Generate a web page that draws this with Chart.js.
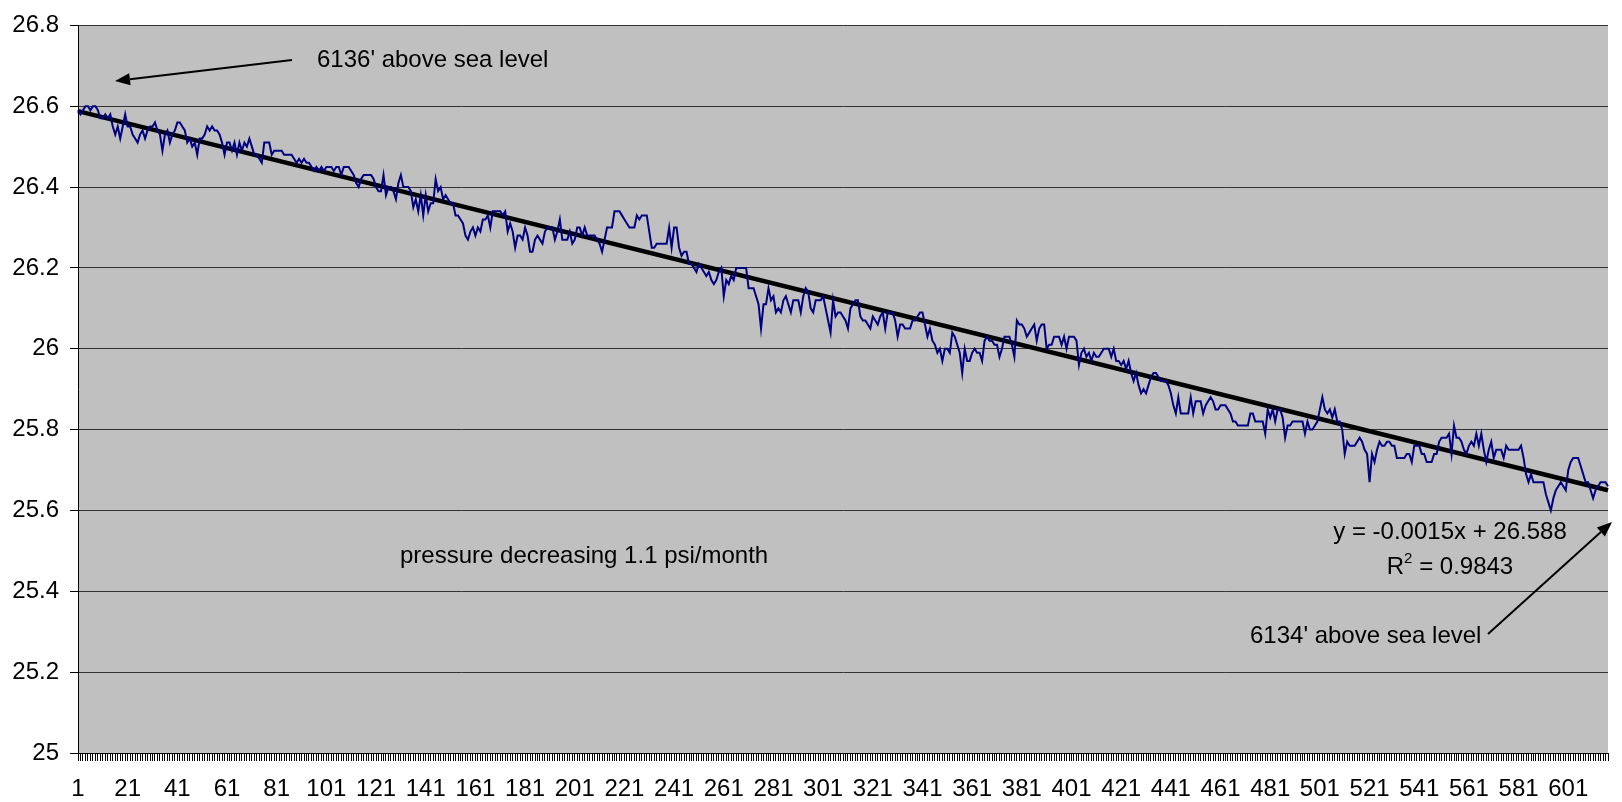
<!DOCTYPE html>
<html><head><meta charset="utf-8">
<script src="https://cdn.jsdelivr.net/npm/chart.js@4.4.0/dist/chart.umd.min.js"></script>
<style>html,body{margin:0;padding:0;background:#fff;overflow:hidden}</style>
</head><body>
<canvas id="c" width="1622" height="802" style="display:block;width:1622px;height:802px"></canvas>
<script>
// Barometric pressure readings (one per reading index)
const pressure = [
26.59,26.58,26.59,26.60,26.60,26.59,26.60,26.60,26.59,26.57,
26.57,26.58,26.57,26.58,26.55,26.53,26.55,26.52,26.55,26.58,
26.55,26.55,26.53,26.52,26.51,26.53,26.54,26.52,26.54,26.55,
26.55,26.56,26.54,26.53,26.49,26.53,26.54,26.51,26.53,26.54,
26.56,26.56,26.55,26.54,26.51,26.52,26.50,26.51,26.48,26.52,
26.52,26.53,26.55,26.54,26.55,26.54,26.54,26.53,26.51,26.48,
26.51,26.51,26.49,26.51,26.48,26.51,26.49,26.51,26.50,26.52,
26.50,26.48,26.48,26.47,26.46,26.51,26.51,26.51,26.48,26.49,
26.49,26.49,26.49,26.48,26.48,26.48,26.48,26.47,26.46,26.47,
26.46,26.47,26.46,26.46,26.45,26.44,26.45,26.44,26.45,26.44,
26.45,26.45,26.45,26.44,26.45,26.45,26.43,26.45,26.45,26.45,
26.44,26.43,26.41,26.40,26.42,26.43,26.43,26.43,26.43,26.42,
26.40,26.39,26.39,26.43,26.38,26.40,26.40,26.39,26.37,26.41,
26.43,26.40,26.40,26.40,26.39,26.35,26.37,26.34,26.38,26.33,
26.38,26.34,26.36,26.36,26.42,26.39,26.40,26.37,26.38,26.37,
26.36,26.36,26.33,26.33,26.32,26.31,26.28,26.27,26.29,26.30,
26.28,26.30,26.29,26.32,26.32,26.33,26.30,26.34,26.34,26.34,
26.34,26.33,26.34,26.29,26.31,26.29,26.25,26.28,26.28,26.27,
26.30,26.28,26.24,26.24,26.27,26.28,26.27,26.26,26.29,26.30,
26.30,26.30,26.27,26.29,26.32,26.27,26.27,26.27,26.29,26.26,
26.27,26.30,26.30,26.28,26.30,26.28,26.28,26.28,26.28,26.27,
26.26,26.24,26.27,26.30,26.30,26.30,26.34,26.34,26.34,26.33,
26.32,26.31,26.30,26.30,26.30,26.33,26.32,26.33,26.33,26.33,
26.29,26.25,26.25,26.26,26.26,26.26,26.26,26.26,26.30,26.25,
26.30,26.30,26.25,26.23,26.24,26.24,26.21,26.21,26.20,26.19,
26.21,26.20,26.19,26.18,26.19,26.17,26.16,26.17,26.19,26.20,
26.13,26.17,26.16,26.18,26.17,26.20,26.20,26.20,26.20,26.20,
26.15,26.15,26.15,26.13,26.11,26.05,26.11,26.11,26.15,26.12,
26.13,26.09,26.10,26.09,26.12,26.13,26.11,26.09,26.12,26.12,
26.12,26.09,26.13,26.15,26.14,26.10,26.09,26.12,26.12,26.12,
26.13,26.10,26.07,26.04,26.12,26.08,26.09,26.09,26.08,26.07,
26.05,26.10,26.11,26.12,26.12,26.08,26.07,26.07,26.06,26.05,
26.08,26.07,26.06,26.08,26.09,26.05,26.09,26.09,26.09,26.07,
26.03,26.06,26.06,26.05,26.05,26.05,26.07,26.07,26.08,26.09,
26.09,26.06,26.03,26.05,26.02,26.01,25.99,26.00,25.97,26.00,
26.00,25.99,26.04,26.03,26.01,25.99,25.94,26.00,25.97,25.97,
25.99,26.00,25.99,25.99,25.97,26.02,26.03,26.02,26.02,26.01,
26.01,25.98,26.00,26.03,26.03,26.03,26.01,25.98,26.07,26.06,
26.06,26.05,26.03,26.04,26.05,26.06,26.02,26.05,26.06,26.06,
26.00,26.01,26.01,26.03,26.03,26.03,26.01,26.03,26.00,26.03,
26.03,26.03,26.02,25.96,25.99,26.00,25.98,25.99,25.97,25.99,
25.98,25.98,25.99,26.00,26.00,26.00,25.98,26.00,25.97,25.97,
25.96,25.97,25.95,25.97,25.94,25.92,25.94,25.91,25.89,25.90,
25.89,25.91,25.93,25.94,25.94,25.93,25.92,25.92,25.92,25.91,
25.89,25.86,25.84,25.88,25.84,25.84,25.84,25.84,25.88,25.84,
25.87,25.87,25.87,25.84,25.86,25.87,25.88,25.87,25.85,25.85,
25.86,25.86,25.86,25.85,25.84,25.82,25.82,25.81,25.81,25.81,
25.81,25.81,25.84,25.84,25.82,25.82,25.82,25.82,25.79,25.85,
25.83,25.85,25.82,25.85,25.85,25.83,25.78,25.81,25.81,25.82,
25.82,25.82,25.82,25.82,25.79,25.82,25.80,25.80,25.81,25.82,
25.85,25.88,25.85,25.84,25.85,25.83,25.85,25.82,25.82,25.80,
25.74,25.77,25.76,25.76,25.76,25.77,25.78,25.77,25.75,25.74,
25.67,25.74,25.72,25.75,25.77,25.76,25.76,25.77,25.77,25.76,
25.76,25.73,25.73,25.73,25.73,25.74,25.74,25.72,25.76,25.76,
25.76,25.74,25.74,25.72,25.72,25.72,25.74,25.74,25.77,25.78,
25.78,25.78,25.79,25.74,25.81,25.78,25.78,25.77,25.75,25.74,
25.76,25.77,25.76,25.79,25.76,25.79,25.75,25.72,25.75,25.77,
25.73,25.75,25.75,25.75,25.73,25.76,25.75,25.75,25.75,25.75,
25.75,25.76,25.73,25.69,25.67,25.69,25.67,25.67,25.67,25.67,
25.67,25.64,25.62,25.60,25.63,25.65,25.66,25.67,25.66,25.65,
25.70,25.72,25.73,25.73,25.73,25.71,25.69,25.67,25.67,25.65,
25.63,25.65,25.66,25.67,25.67,25.67,25.66
];

// Category labels (reading number)
const categories = pressure.map((_, i) => String(i + 1));

// Labels actually printed under the x axis
const xTickLabels = ['1','21','41','61','81','101','121','141','161','181','201','221','241','261','281','301','321','341','361','381','401','421','441','461','481','501','521','541','561','581','601'];

// Y axis range
const yMin = 25, yMax = 26.8, yStep = 0.2;

// Linear trendline end values
const trendStart = 26.588;
const trendEnd = 25.65;
const trend = categories.map((_, i) => i === 0 ? trendStart : (i === categories.length - 1 ? trendEnd : null));

const FONT = '"Liberation Sans", Arial, Helvetica, sans-serif';

const bgPlugin = {
  id: 'plotBg',
  beforeDraw(chart) {
    const { ctx, chartArea: a } = chart;
    ctx.save();
    ctx.fillStyle = '#C0C0C0';
    ctx.fillRect(a.left, a.top, a.right - a.left, a.bottom - a.top);
    ctx.restore();
  }
};

function arrow(ctx, x1, y1, x2, y2) {
  const ang = Math.atan2(y2 - y1, x2 - x1);
  const len = 15, hw = 6;
  const bx = x2 - len * Math.cos(ang), by = y2 - len * Math.sin(ang);
  ctx.beginPath();
  ctx.lineWidth = 2;
  ctx.moveTo(x1, y1);
  ctx.lineTo(bx, by);
  ctx.stroke();
  ctx.beginPath();
  ctx.moveTo(x2, y2);
  ctx.lineTo(bx + hw * Math.sin(ang), by - hw * Math.cos(ang));
  ctx.lineTo(bx - hw * Math.sin(ang), by + hw * Math.cos(ang));
  ctx.closePath();
  ctx.fill();
}

const annPlugin = {
  id: 'annotations',
  afterDraw(chart) {
    const ctx = chart.ctx;
    ctx.save();
    ctx.fillStyle = '#000';
    ctx.strokeStyle = '#000';
    ctx.textBaseline = 'middle';
    ctx.font = '24px ' + FONT;
    ctx.textAlign = 'left';
    ctx.fillText("6136' above sea level", 317, 60);
    ctx.fillText('pressure decreasing 1.1 psi/month', 400, 556);
    ctx.textAlign = 'center';
    ctx.fillText('y = -0.0015x + 26.588', 1450, 532);
    // R^2 line
    ctx.textAlign = 'left';
    const r = 'R', rest = ' = 0.9843';
    const wR = ctx.measureText(r).width;
    const wRest = ctx.measureText(rest).width;
    ctx.font = '15px ' + FONT;
    const w2 = ctx.measureText('2').width;
    const total = wR + w2 + wRest;
    let x = 1450 - total / 2;
    ctx.font = '24px ' + FONT;
    ctx.fillText(r, x, 567);
    ctx.font = '15px ' + FONT;
    ctx.fillText('2', x + wR, 559);
    ctx.font = '24px ' + FONT;
    ctx.fillText(rest, x + wR + w2, 567);
    ctx.fillText("6134' above sea level", 1250, 636);
    arrow(ctx, 292, 60, 115, 81);
    arrow(ctx, 1488, 634, 1612, 522);
    ctx.restore();
  }
};

new Chart(document.getElementById('c'), {
  type: 'line',
  data: {
    labels: categories,
    datasets: [
      {
        label: 'pressure',
        data: pressure,
        borderColor: '#000080',
        borderWidth: 2,
        pointRadius: 0,
        tension: 0,
        fill: false
      },
      {
        label: 'Linear trend',
        data: trend,
        borderColor: '#000000',
        borderWidth: 4.5,
        pointRadius: 0,
        spanGaps: true,
        tension: 0,
        fill: false
      }
    ]
  },
  options: {
    responsive: false,
    animation: false,
    devicePixelRatio: 1,
    layout: { padding: { top: 19, right: 0, left: 0, bottom: 0 } },
    plugins: { legend: { display: false }, tooltip: { enabled: false } },
    scales: {
      x: {
        type: 'category',
        offset: false,
        grid: { drawOnChartArea: false, drawTicks: true, tickLength: 8, color: '#000', lineWidth: 1 },
        border: { display: true, color: '#000', width: 1 },
        ticks: {
          autoSkip: false, maxRotation: 0, minRotation: 0, padding: 14, color: '#000',
          font: { family: FONT, size: 24 },
          callback(v, i) { const l = categories[i]; return xTickLabels.includes(l) ? l : ''; }
        },
        afterFit(s) { s.height = 49; }
      },
      y: {
        min: yMin, max: yMax,
        grid: { color: '#333', lineWidth: 1, drawTicks: true, tickLength: 8, tickColor: '#000' },
        border: { display: true, color: '#000', width: 1 },
        ticks: {
          stepSize: yStep, padding: 11, color: '#000',
          font: { family: FONT, size: 24 },
          callback: v => String(+Number(v).toFixed(1))
        },
        afterFit(s) { s.width = 78; }
      }
    }
  },
  plugins: [bgPlugin, annPlugin]
});
</script>
</body></html>
